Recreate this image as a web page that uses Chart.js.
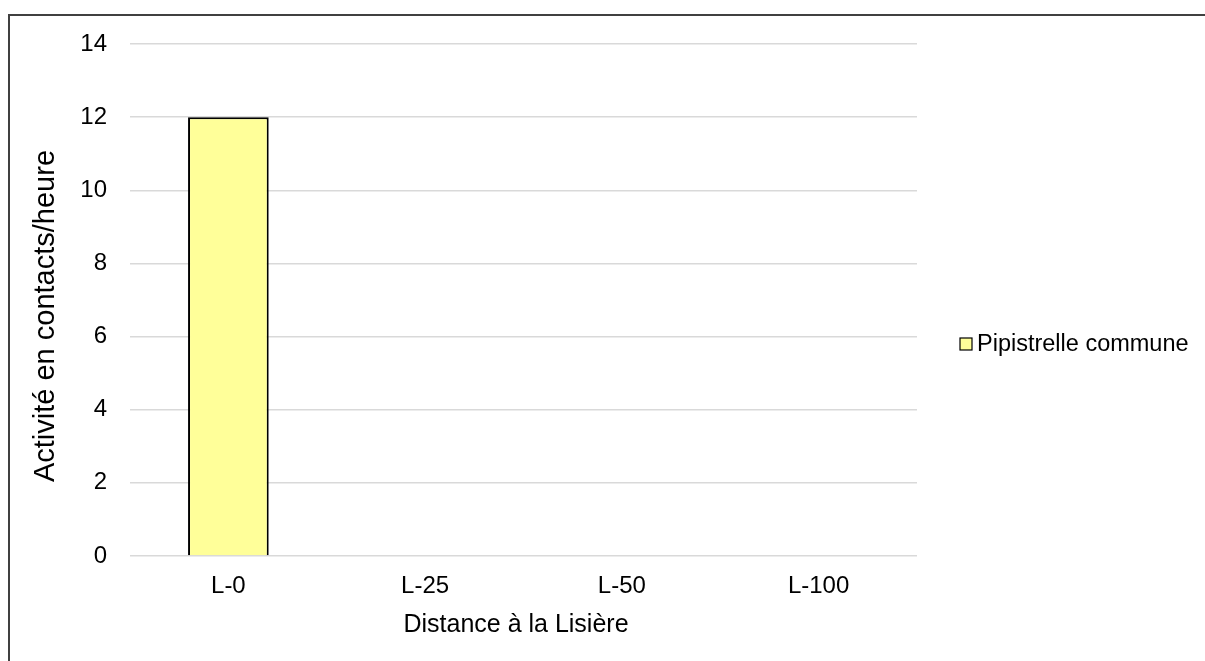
<!DOCTYPE html>
<html>
<head>
<meta charset="utf-8">
<script src="https://cdn.jsdelivr.net/npm/chart.js@4"></script>
<style>
  body { margin: 0; background: #fff; }
  #wrap { position: relative; width: 1205px; height: 661px; overflow: hidden; }
  #frame { position: absolute; left: 8px; top: 14px; width: 1300px; height: 800px;
           border-top: 2px solid #404040; border-left: 2px solid #404040; }
  canvas { position: absolute; left: 0; top: 0; }
</style>
</head>
<body>
<div id="wrap">
  <div id="frame"></div>
  <canvas id="chart" width="1205" height="661"></canvas>
</div>
<script>
// data
const distances = ['L-0', 'L-25', 'L-50', 'L-100'];
const pipistrelle = [12, 0, 0, 0];
const seriesName = 'Pipistrelle commune';
const yTicks = [0, 2, 4, 6, 8, 10, 12, 14];
const yTitle = 'Activité en contacts/heure';
const xTitle = 'Distance à la Lisière';

const FONT = "'Liberation Sans', Arial, sans-serif";

// legend + axis titles drawn by hand so they sit where Excel put them
const sideLabels = {
  id: 'sideLabels',
  afterDraw(chart) {
    const ctx = chart.ctx;
    const ds = chart.data.datasets[0];
    const x = chart.chartArea.right + 43;
    const y = 344;
    ctx.save();
    ctx.fillStyle = ds.backgroundColor;
    ctx.fillRect(x, y - 6, 12, 12);
    ctx.strokeStyle = '#000';
    ctx.lineWidth = 1.2;
    ctx.strokeRect(x, y - 6, 12, 12);
    ctx.fillStyle = '#000';
    ctx.font = '23.5px ' + FONT;
    ctx.textBaseline = 'middle';
    ctx.fillText(ds.label, x + 17, y + 1);

    // horizontal axis title
    ctx.font = '25px ' + FONT;
    ctx.textAlign = 'center';
    ctx.textBaseline = 'alphabetic';
    ctx.fillText(xTitle, 516, 632);

    // vertical axis title
    ctx.translate(54, 316);
    ctx.rotate(-Math.PI / 2);
    ctx.font = '29px ' + FONT;
    ctx.fillText(yTitle, 0, 0);
    ctx.restore();
  }
};

new Chart(document.getElementById('chart'), {
  type: 'bar',
  data: {
    labels: distances,
    datasets: [{
      label: seriesName,
      data: pipistrelle,
      backgroundColor: '#ffff99',
      borderColor: '#000',
      borderWidth: 2,
      categoryPercentage: 1,
      barPercentage: 0.41
    }]
  },
  options: {
    responsive: false,
    animation: false,
    layout: { padding: { left: 0, top: 44, right: 288, bottom: 0 } },
    plugins: {
      legend: { display: false },
      tooltip: { enabled: false }
    },
    scales: {
      x: {
        grid: { display: false },
        border: { display: false },
        ticks: { color: '#000', font: { family: FONT, size: 24 }, padding: 8 },
        afterFit(scale) { scale.height = 661 - 556; }
      },
      y: {
        min: 0,
        max: 14,
        afterBuildTicks(scale) { scale.ticks = yTicks.map(v => ({ value: v })); },
        grid: { color: '#d9d9d9', lineWidth: 1.5, drawTicks: false },
        border: { display: false },
        ticks: { color: '#000', font: { family: FONT, size: 24 }, padding: 23 },
        afterFit(scale) { scale.width = 130; }
      }
    }
  },
  plugins: [sideLabels]
});
</script>
</body>
</html>
